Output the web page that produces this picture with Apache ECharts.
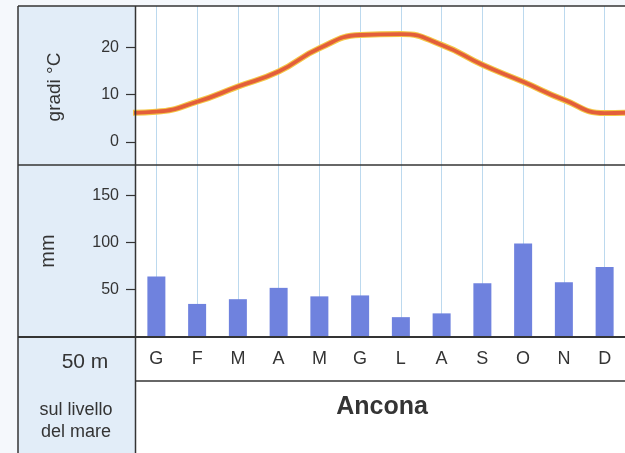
<!DOCTYPE html>
<html>
<head>
<meta charset="utf-8">
<script src="https://cdn.jsdelivr.net/npm/echarts@6/dist/echarts.min.js"></script>
<style>
  html, body { margin: 0; padding: 0; background: #f5f8fc; }
  #chart { width: 625px; height: 453px; }
</style>
</head>
<body>
<div id="chart"></div>
<script>
const months = ['G', 'F', 'M', 'A', 'M', 'G', 'L', 'A', 'S', 'O', 'N', 'D'];
const temperature = [6.4, 8.5, 11.7, 14.9, 19.8, 22.6, 22.8, 20.5, 16.3, 12.7, 8.9, 6.1];
const rainfall = [64, 35, 40, 52, 43, 44, 21, 25, 57, 99, 58, 74];
const tempTicks = [0, 10, 20];
const rainTicks = [50, 100, 150];
const station = 'Ancona';
const altitude = '50 m';
const altitudeNote = 'sul livello\ndel mare';
const tempTitle = 'gradi °C';
const rainTitle = 'mm';

// curve wraps around the year so it runs to both edges of the panel
const tempPoints = [[-1, temperature[11]]]
  .concat(temperature.map((v, i) => [i, v]))
  .concat([[12, temperature[0]]]);

const FONT = "'Liberation Sans', Arial, sans-serif";
const INK = '#343434';
const GRID_BLUE = '#bcd9ee';

function hline(y, x1, x2, w) {
  return { type: 'line', z: 100, shape: { x1, y1: y, x2, y2: y }, style: { stroke: INK, lineWidth: w || 1.5 } };
}
function vline(x, y1, y2) {
  return { type: 'line', z: 100, shape: { x1: x, y1, x2: x, y2 }, style: { stroke: INK, lineWidth: 1.5 } };
}
function label(text, x, y, size, opts) {
  return Object.assign({
    type: 'text', z: 100, x, y,
    style: { text, fill: INK, font: `${size}px ${FONT}`, align: 'center', verticalAlign: 'middle' }
  }, opts || {});
}

function monthAxis(gridIndex, height, showLabels) {
  return {
    type: 'category', gridIndex, data: months, position: 'bottom',
    axisLine: { show: false, onZero: false },
    axisTick: { show: true, alignWithLabel: true, inside: true, length: height, lineStyle: { color: GRID_BLUE, width: 1 } },
    axisLabel: { show: showLabels, color: INK, fontSize: 18, fontFamily: FONT, margin: 13 },
    splitLine: { show: false }
  };
}

function valueAxis(gridIndex, min, max, ticks) {
  return {
    type: 'value', gridIndex, min, max, position: 'left',
    axisLine: { show: false, onZero: false },
    splitLine: { show: false },
    axisTick: { show: true, customValues: ticks, length: 10, lineStyle: { color: INK, width: 1.2 } },
    axisLabel: { customValues: ticks, color: INK, fontSize: 16, fontFamily: FONT, margin: 17 }
  };
}

const chart = echarts.init(document.getElementById('chart'));

chart.setOption({
  animation: false,
  grid: [
    { left: 136, right: -5, top: 6, height: 159 },
    { left: 136, right: -5, top: 165, height: 172 }
  ],
  xAxis: [
    monthAxis(0, 159, false),
    { type: 'value', gridIndex: 0, min: -0.5, max: 11.5, show: false, axisLine: { onZero: false } },
    monthAxis(1, 172, true)
  ],
  yAxis: [
    valueAxis(0, -4.86, 28.72, tempTicks),
    valueAxis(1, 0, 182, rainTicks)
  ],
  series: [
    {
      type: 'line', xAxisIndex: 1, yAxisIndex: 0, data: tempPoints,
      smooth: 0.5, symbol: 'none', z: 3,
      lineStyle: { width: 6, color: '#f4c646' }
    },
    {
      type: 'line', xAxisIndex: 1, yAxisIndex: 0, data: tempPoints,
      smooth: 0.5, symbol: 'none', z: 4,
      lineStyle: { width: 3.8, color: '#e35e3a' }
    },
    {
      type: 'bar', xAxisIndex: 2, yAxisIndex: 1, data: rainfall,
      barWidth: 18, z: 5,
      itemStyle: { color: '#6f82de' }
    }
  ],
  graphic: [
    { type: 'rect', z: -100, shape: { x: 18, y: 6, width: 118, height: 447 }, style: { fill: '#e2edf8' } },
    { type: 'rect', z: -100, shape: { x: 136, y: 6, width: 489, height: 447 }, style: { fill: '#ffffff' } },
    hline(6, 18, 625),
    hline(165, 18, 625),
    hline(337, 18, 625, 2),
    hline(381, 135, 625),
    vline(18, 6, 453),
    vline(135.5, 6, 453),
    label(tempTitle, 55, 87, 19, { rotation: Math.PI / 2 }),
    label(rainTitle, 48, 251, 20, { rotation: Math.PI / 2 }),
    label(altitude, 85, 362, 21),
    {
      type: 'text', z: 100, x: 76, y: 421,
      style: { text: altitudeNote, fill: INK, font: `18px ${FONT}`, align: 'center', verticalAlign: 'middle', lineHeight: 22 }
    },
    {
      type: 'text', z: 100, x: 382, y: 407,
      style: { text: station, fill: INK, font: `bold 25px ${FONT}`, align: 'center', verticalAlign: 'middle' }
    }
  ]
});
</script>
</body>
</html>
